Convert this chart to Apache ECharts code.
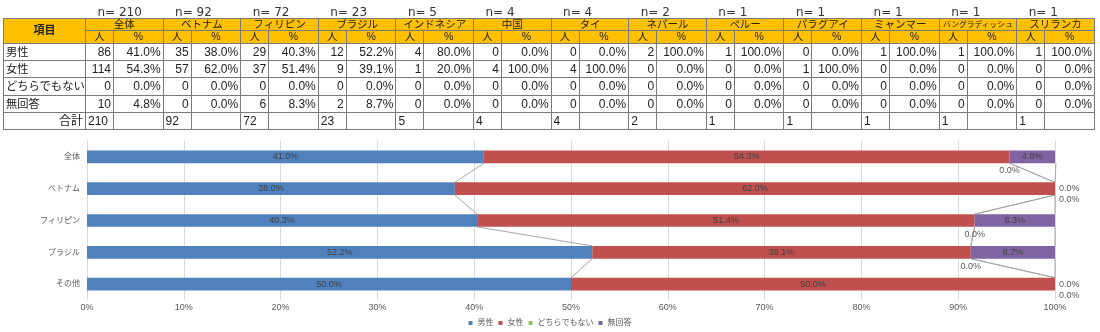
<!DOCTYPE html>
<html lang="ja">
<head>
<meta charset="utf-8">
<title>性別</title>
<script src="https://cdn.jsdelivr.net/npm/echarts@6/dist/echarts.min.js"></script>
<style>
  html, body { margin: 0; padding: 0; background: #fff; }
  #wrap { position: relative; width: 1100px; height: 332px; overflow: hidden; }
  #chart { position: absolute; left: 0; top: 0; width: 1100px; height: 332px; }
  #tbl {
    position: absolute; left: 3px; top: 0;
    border-collapse: collapse; table-layout: fixed; width: 1091px;
    font-family: "Liberation Sans", "Noto Sans CJK JP", sans-serif; color: #222;
  }
  #tbl td { border: 1px solid #7a7a7a; padding: 0 2px; white-space: nowrap; overflow: hidden; box-sizing: border-box; }
  #tbl tr.nrow td { border: none; font-family: "DejaVu Sans", sans-serif; font-size: 12px; line-height: 12px;
                    height: 18px; vertical-align: bottom; padding: 0 0 0 12px; color: #333; }
  #tbl tr.head td { background: #FFC000; font-size: 10.5px; line-height: 11px; height: 12.5px; text-align: center; padding: 0; }
  #tbl tr.head td.item { font-weight: 600; font-size: 11px; }
  #tbl tr.head td.small { font-size: 7.8px; }
  #tbl tr.body td { font-size: 12px; line-height: 14px; height: 17.4px; text-align: right; }
  #tbl tr.body td.label { text-align: left; font-size: 11.3px; }
  #tbl tr.total td.count { text-align: left; }
</style>
</head>
<body>
<div id="wrap">
  <div id="chart"></div>
  <table id="tbl"></table>
</div>
<script>
// ---- table: counts and shares by nationality ----
const groups = ['全体', 'ベトナム', 'フィリピン', 'ブラジル', 'インドネシア', '中国', 'タイ', 'ネパール',
                'ペルー', 'パラグアイ', 'ミャンマー', 'バングラディッシュ', 'スリランカ'];
const groupN = [210, 92, 72, 23, 5, 4, 4, 2, 1, 1, 1, 1, 1];
const rowItems = ['男性', '女性', 'どちらでもない', '無回答'];

const maleCount     = [86, 35, 29, 12, 4, 0, 0, 2, 1, 0, 1, 1, 1];
const malePct       = [41.0, 38.0, 40.3, 52.2, 80.0, 0.0, 0.0, 100.0, 100.0, 0.0, 100.0, 100.0, 100.0];
const femaleCount   = [114, 57, 37, 9, 1, 4, 4, 0, 0, 1, 0, 0, 0];
const femalePct     = [54.3, 62.0, 51.4, 39.1, 20.0, 100.0, 100.0, 0.0, 0.0, 100.0, 0.0, 0.0, 0.0];
const neitherCount  = [0, 0, 0, 0, 0, 0, 0, 0, 0, 0, 0, 0, 0];
const neitherPct    = [0.0, 0.0, 0.0, 0.0, 0.0, 0.0, 0.0, 0.0, 0.0, 0.0, 0.0, 0.0, 0.0];
const noAnswerCount = [10, 0, 6, 2, 0, 0, 0, 0, 0, 0, 0, 0, 0];
const noAnswerPct   = [4.8, 0.0, 8.3, 8.7, 0.0, 0.0, 0.0, 0.0, 0.0, 0.0, 0.0, 0.0, 0.0];
const totalLabel = '合計';

// ---- chart: shares by nationality group ----
const chartCategories = ['全体', 'ベトナム', 'フィリピン', 'ブラジル', 'その他'];
const seriesNames = ['男性', '女性', 'どちらでもない', '無回答'];
const maleShare     = [41.0, 38.0, 40.3, 52.2, 50.0];
const femaleShare   = [54.3, 62.0, 51.4, 39.1, 50.0];
const neitherShare  = [0.0, 0.0, 0.0, 0.0, 0.0];
const noAnswerShare = [4.8, 0.0, 8.3, 8.7, 0.0];

const seriesColors = ['#4F81BD', '#C0504D', '#9BBB59', '#8064A2'];

// ---------- build the table ----------
(function buildTable() {
  const tbl = document.getElementById('tbl');
  const counts = [maleCount, femaleCount, neitherCount, noAnswerCount];
  const pcts = [malePct, femalePct, neitherPct, noAnswerPct];
  const fmtPct = v => v.toFixed(1) + '%';
  let html = '<colgroup><col style="width:82px">';
  groups.forEach(() => { html += '<col style="width:28px"><col style="width:49.6px">'; });
  html += '</colgroup>';

  html += '<tr class="nrow"><td></td>';
  groupN.forEach(n => { html += '<td colspan="2">n= ' + n + '</td>'; });
  html += '</tr>';

  html += '<tr class="head"><td rowspan="2" class="item">項目</td>';
  groups.forEach(g => {
    html += '<td colspan="2"' + (g.length > 6 ? ' class="small"' : '') + '>' + g + '</td>';
  });
  html += '</tr><tr class="head">';
  groups.forEach(() => { html += '<td>人</td><td>%</td>'; });
  html += '</tr>';

  rowItems.forEach((name, r) => {
    html += '<tr class="body"><td class="label">' + name + '</td>';
    groups.forEach((g, c) => {
      html += '<td>' + counts[r][c] + '</td><td>' + fmtPct(pcts[r][c]) + '</td>';
    });
    html += '</tr>';
  });

  html += '<tr class="body total"><td>' + totalLabel + '</td>';
  groupN.forEach(n => { html += '<td class="count">' + n + '</td><td></td>'; });
  html += '</tr>';
  tbl.innerHTML = html;
})();

// ---------- build the chart ----------
const shareRows = [maleShare, femaleShare, neitherShare, noAnswerShare];
const FONT = '"Liberation Sans", "Noto Sans CJK JP", sans-serif';
const BAR_RATIO = 0.4;

// running right edge of every segment, per category
const segmentEnds = shareRows.map((row, k) =>
  row.map((_, i) => shareRows.slice(0, k + 1).reduce((s, r) => s + r[i], 0))
);

function barData(k) {
  return shareRows[k].map((v, i) => {
    if (v > 0) return v;
    const atEdge = segmentEnds[k][i] >= 99.95;
    if (!atEdge) {
      return { value: v, label: { position: 'bottom', distance: 3, color: '#595959' } };
    }
    // zero segments stacked at the right edge: list their labels downward
    let rank = 0;
    for (let j = 0; j < k; j++) if (shareRows[j][i] === 0 && segmentEnds[j][i] >= 99.95) rank++;
    return { value: v, label: { position: 'right', distance: 4, offset: [0, rank * 11], color: '#595959' } };
  });
}

const barSeries = seriesNames.map((name, k) => ({
  name: name,
  type: 'bar',
  stack: 'share',
  barWidth: (BAR_RATIO * 100) + '%',
  itemStyle: { color: seriesColors[k] },
  label: {
    show: true, position: 'inside', fontSize: 9, fontFamily: FONT, color: '#404040',
    formatter: p => p.value.toFixed(1) + '%'
  },
  emphasis: { disabled: true },
  data: barData(k),
  z: 3
}));

// connector lines between the segment ends of neighbouring bars
const connectorData = [];
segmentEnds.forEach(ends => {
  for (let i = 0; i < ends.length - 1; i++) connectorData.push([ends[i], i, ends[i + 1], i + 1]);
});

const connectorSeries = {
  type: 'custom',
  name: 'connectors',
  silent: true,
  encode: { x: [0, 2], y: [1, 3] },
  data: connectorData,
  z: 2,
  renderItem: (params, api) => {
    const p0 = api.coord([api.value(0), api.value(1)]);
    const p1 = api.coord([api.value(2), api.value(3)]);
    const half = api.size([0, 1])[1] * BAR_RATIO / 2;
    return {
      type: 'line',
      shape: { x1: p0[0], y1: p0[1] + half, x2: p1[0], y2: p1[1] - half },
      style: { stroke: '#a6a6a6', lineWidth: 1 }
    };
  }
};

const chart = echarts.init(document.getElementById('chart'), null, { renderer: 'canvas' });
chart.setOption({
  animation: false,
  textStyle: { fontFamily: FONT },
  grid: { left: 87, right: 45, top: 141, height: 159, containLabel: false },
  xAxis: {
    type: 'value', min: 0, max: 100, interval: 10,
    axisLine: { show: false }, axisTick: { show: false },
    axisLabel: { formatter: '{value}%', fontSize: 9, color: '#595959', margin: 3, fontFamily: FONT },
    splitLine: { lineStyle: { color: '#d9d9d9', width: 1 } }
  },
  yAxis: {
    type: 'category', inverse: true, data: chartCategories,
    axisLine: { show: true, lineStyle: { color: '#d9d9d9' } },
    axisTick: { show: false },
    axisLabel: { fontSize: 8, color: '#595959', margin: 7, fontFamily: FONT }
  },
  legend: {
    data: seriesNames, top: 314, left: 'center',
    icon: 'rect', itemWidth: 4, itemHeight: 4, itemGap: 5,
    textStyle: { fontSize: 8, color: '#595959', fontFamily: FONT }
  },
  series: barSeries.concat([connectorSeries])
});
</script>
</body>
</html>
